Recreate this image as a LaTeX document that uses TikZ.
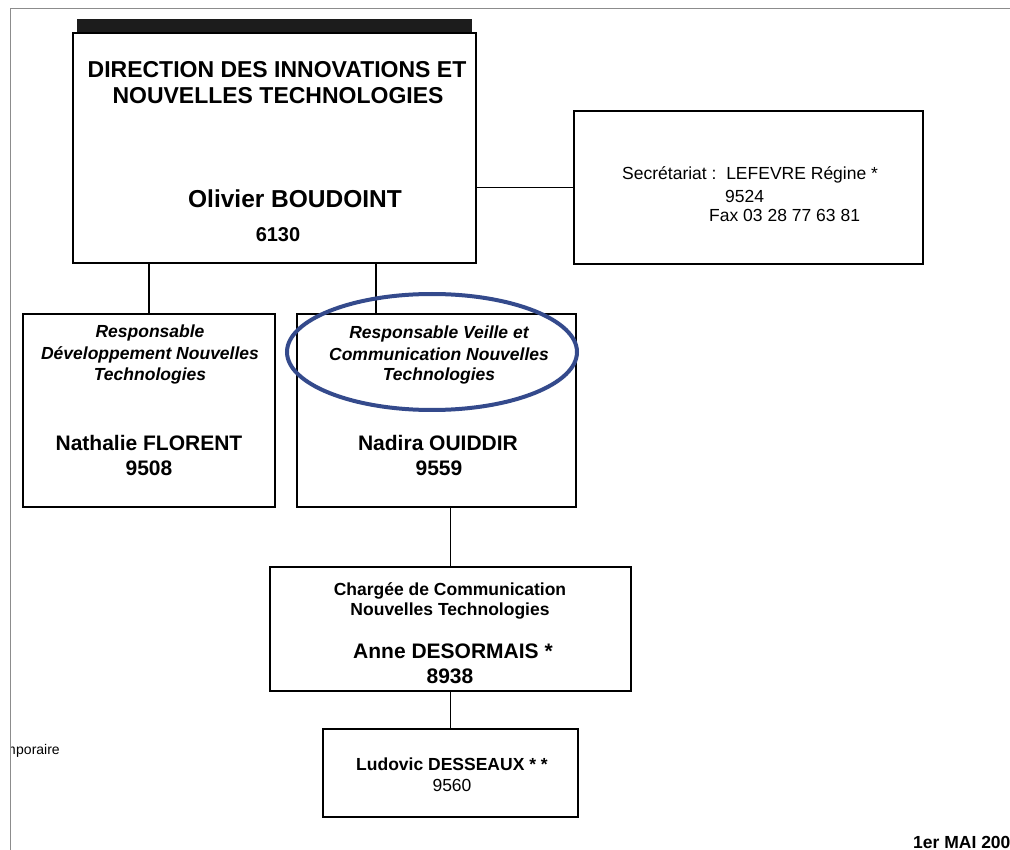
\documentclass[tikz,border=0pt]{standalone}
\usepackage{fontspec}
\setmainfont{Liberation Sans}
\definecolor{ringblue}{RGB}{52,74,140}
\definecolor{barcol}{RGB}{28,28,28}
\begin{document}
\begin{tikzpicture}[x=1pt,y=-1pt,
  box/.style={draw, line width=1.3pt, inner sep=0pt},
  conn/.style={draw, line width=1.1pt},
  tx/.style={inner sep=0pt, anchor=base},
  txw/.style={inner sep=0pt, anchor=base west},
  ftitle/.style={font=\fontsize{23}{27}\selectfont\bfseries},
  fboss/.style={font=\fontsize{24.5}{28}\selectfont\bfseries},
  fnum/.style={font=\fontsize{20}{24}\selectfont\bfseries},
  fname/.style={font=\fontsize{21}{25}\selectfont\bfseries},
  frole/.style={font=\fontsize{17.5}{21}\selectfont\bfseries\itshape},
  fsmallb/.style={font=\fontsize{17.5}{21}\selectfont\bfseries},
  fsmall/.style={font=\fontsize{17.5}{21}\selectfont},
  fnote/.style={font=\fontsize{14}{17}\selectfont}]
\clip (0,0) rectangle (1010,850);
\fill[white] (0,0) rectangle (1010,850);
% page frame
\draw[black!45, line width=0.8pt] (10,850) -- (10,8) -- (1010,8);
% dark header bar
\fill[barcol] (77,19) rectangle (472,33);
% boxes
\node[box, minimum width=403pt, minimum height=230pt] (dir) at (274.5,148) {};
\node[box, minimum width=349pt, minimum height=153pt] (sec) at (748.5,187.5) {};
\node[box, minimum width=252pt, minimum height=193pt] (dev) at (149,410.5) {};
\node[box, minimum width=279pt, minimum height=193pt] (mid) at (436.5,410.5) {};
\node[box, minimum width=361pt, minimum height=124pt] (charg) at (450.5,629) {};
\node[box, minimum width=255pt, minimum height=88pt] (lud) at (450.5,773) {};
% connectors
\coordinate (c2) at (376,263);
\draw[conn] (dir.east |- sec.west) -- (sec.west);
\draw[conn] (dev.north) -- (dev.north |- dir.south);
\draw[conn] (c2) -- (c2 |- mid.north);
\draw[conn] (charg.north) -- (charg.north |- mid.south);
\draw[conn] (lud.north) -- (charg.south);
% direction box text
\node[tx, ftitle] (t1) at (277,78) {DIRECTION DES INNOVATIONS ET};
\node[tx, ftitle] (t2) at (278,104) {NOUVELLES TECHNOLOGIES};
\node[tx, fboss] (t3) at (295,208) {Olivier BOUDOINT};
\node[tx, fnum] (t4) at (278,242) {6130};
% secretariat
\node[txw, fsmall] (s1) at (622,180) {Secrétariat :\ \ LEFEVRE Régine *};
\node[txw, fsmall] (s2) at (725,203) {9524};
\node[txw, fsmall] (s3) at (709,222) {Fax 03 28 77 63 81};
% left box
\node[tx, frole] (d1) at (150,338) {Responsable};
\node[tx, frole] (d2) at (150,360) {Développement Nouvelles};
\node[tx, frole] (d3) at (150,381) {Technologies};
\node[tx, fname] (d4) at (149,450) {Nathalie FLORENT};
\node[tx, fname] (d5) at (149,475) {9508};
% middle box
\node[tx, frole] (m1) at (439,339) {Responsable Veille et};
\node[tx, frole] (m2) at (439,361) {Communication Nouvelles};
\node[tx, frole] (m3) at (439,381) {Technologies};
\node[tx, fname] (m4) at (438,450) {Nadira OUIDDIR};
\node[tx, fname] (m5) at (439,475) {9559};
% highlight ellipse
\draw[ringblue, line width=4pt] (432,352) ellipse [x radius=145pt, y radius=58pt];
% chargee box
\node[tx, fsmallb] (g1) at (450,595) {Chargée de Communication};
\node[tx, fsmallb] (g2) at (450,615) {Nouvelles Technologies};
\node[tx, fname] (g3) at (453,658) {Anne DESORMAIS *};
\node[tx, fname] (g4) at (450,683) {8938};
% ludovic box
\node[tx, fsmallb] (l1) at (452,770) {Ludovic DESSEAUX * *};
\node[tx, fsmall] (l2) at (452,791) {9560};
% cut-off notes
\begin{scope}
\clip (11,0) rectangle (1010,850);
\node[inner sep=0pt, anchor=base east, fnote] (np) at (16,754) {m};
\node[txw, fnote] (np2) at (np.base east) {poraire};
\end{scope}
\node[txw, fsmallb] (date) at (913,848) {1er MAI 2008};
\end{tikzpicture}
\end{document}
